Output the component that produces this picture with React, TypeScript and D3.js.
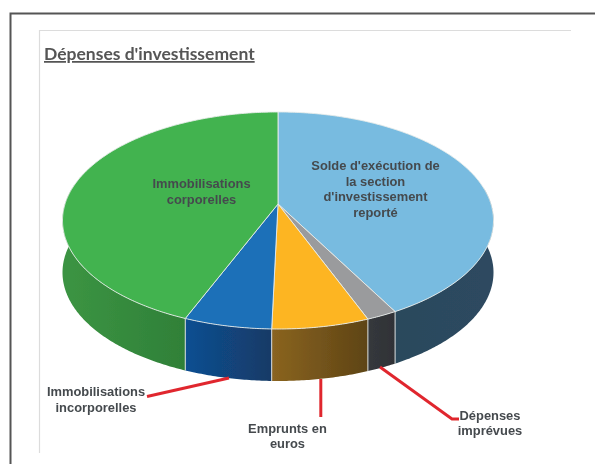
import React from "react";
import * as d3 from "d3";

const categories = [
  "Solde d'exécution de la section d'investissement reporté",
  "Dépenses imprévues",
  "Emprunts en euros",
  "Immobilisations incorporelles",
  "Immobilisations corporelles",
];
const values = [42.1, 2.0, 6.3, 5.7, 43.9];
const topColors = ["#78bbe0", "#9a9b9d", "#fdb522", "#1a6fb8", "#43b350"];
const sideLeft = ["#2b485c", "#35383c", "#8a6420", "#0f4f92", "#3b9342"];
const sideRight = ["#2d4a60", "#2f3236", "#5e4415", "#143a66", "#2f8038"];
const title = "Dépenses d'investissement";

const labelLines = [
  { lines: ["Solde d'exécution de", "la section", "d'investissement", "reporté"], x: 375.5, y: 170 },
  { lines: ["Immobilisations", "corporelles"], x: 201.5, y: 188 },
  { lines: ["Immobilisations", "incorporelles"], x: 96, y: 396 },
  { lines: ["Emprunts en", "euros"], x: 287.5, y: 432.5 },
  { lines: ["Dépenses", "imprévues"], x: 490, y: 419.5 },
];
const leaders = [
  [[147, 396.5], [229, 378]],
  [[320.8, 417], [320.8, 379]],
  [[459, 419], [452, 419], [380, 367]],
];

const W = 595, H = 464;
const apex = [278, 204];
const scaleX = 213, scaleY = 106, persp = 0.152, depth = 52;

const project = (a: number) => {
  const u = Math.sin(a), v = -Math.cos(a);
  const w = 1 - persp * v;
  return [apex[0] + (scaleX * u) / w, apex[1] + (scaleY * v) / w] as [number, number];
};
const arcPts = (a0: number, a1: number) => {
  const n = Math.max(2, Math.ceil((a1 - a0) / 0.01));
  return d3.range(n + 1).map((i) => project(a0 + ((a1 - a0) * i) / n));
};
const line = d3.line();

const pie = d3.pie<number>().sort(null).value((d) => d)(values);
const visibleSide = (a0: number, a1: number) => {
  // the front of the disc, between the two horizontal extremes of the projected ellipse
  const lo = Math.PI / 2 - 0.152, hi = (3 * Math.PI) / 2 + 0.152;
  return [Math.max(a0, lo), Math.min(a1, hi)];
};

export default function App() {
  return (
    <svg width={W} height={H} viewBox={`0 0 ${W} ${H}`} style={{ position: "absolute", left: 0, top: 0 }}>
      <defs>
        <filter id="soft" filterUnits="userSpaceOnUse" x={0} y={0} width={W} height={H}>
          <feGaussianBlur stdDeviation="0.45" />
        </filter>
        {pie.map((s, i) => {
          const [a0, a1] = visibleSide(s.startAngle, s.endAngle);
          const p0 = project(a0), p1 = project(a1);
          return (
            <linearGradient key={i} id={`side${i}`} gradientUnits="userSpaceOnUse" x1={Math.min(p0[0], p1[0])} x2={Math.max(p0[0], p1[0])} y1={0} y2={0}>
              <stop offset="0%" stopColor={sideLeft[i]} />
              <stop offset="100%" stopColor={sideRight[i]} />
            </linearGradient>
          );
        })}
      </defs>
      <rect width={W} height={H} fill="#fff" />
      <g filter="url(#soft)">
        <path d="M10.5 464V13.5H595" fill="none" stroke="#555" strokeWidth={2} />
        <path d="M39.5 453V30.5H571" fill="none" stroke="#dcdcdc" strokeWidth={1.2} />
        <text x={44} y={60} fontFamily="Lato, 'Open Sans', sans-serif" fontWeight={700} fontSize={17.5} fill="#555" textDecoration="underline">{title}</text>
        {pie.map((s, i) => {
          const [a0, a1] = visibleSide(s.startAngle, s.endAngle);
          if (a1 <= a0) return null;
          const rim = arcPts(a0, a1);
          const bottom = rim.map(([x, y]) => [x, y + depth] as [number, number]).reverse();
          return <path key={i} d={line([...rim, ...bottom])! + "Z"} fill={`url(#side${i})`} />;
        })}
        {pie.map((s, i) => {
          const [a0, a1] = visibleSide(s.startAngle, s.endAngle);
          const inner = s.startAngle > Math.PI / 2 && s.startAngle < 1.5 * Math.PI;
          if (!inner || a1 <= a0) return null;
          const p = project(s.startAngle);
          return <line key={i} x1={p[0]} x2={p[0]} y1={p[1]} y2={p[1] + depth} stroke="#d8dcdc" strokeWidth={1} />;
        })}
        {pie.map((s, i) => (
          <path key={i} d={line([apex as [number, number], ...arcPts(s.startAngle, s.endAngle)])! + "Z"} fill={topColors[i]} stroke="#e8ecea" strokeWidth={0.9} strokeLinejoin="round" />
        ))}
        {leaders.map((l, i) => (
          <path key={i} d={line(l as [number, number][])!} fill="none" stroke="#e0282e" strokeWidth={3} />
        ))}
        {labelLines.map((l, i) => (
          <text key={i} textAnchor="middle" fontFamily="'Liberation Sans', Arial, sans-serif" fontWeight={700} fontSize={12.9} fill="#454a4e">
            {l.lines.map((t, j) => (
              <tspan key={j} x={l.x} y={l.y + j * 15.7}>{t}</tspan>
            ))}
          </text>
        ))}
      </g>
    </svg>
  );
}
